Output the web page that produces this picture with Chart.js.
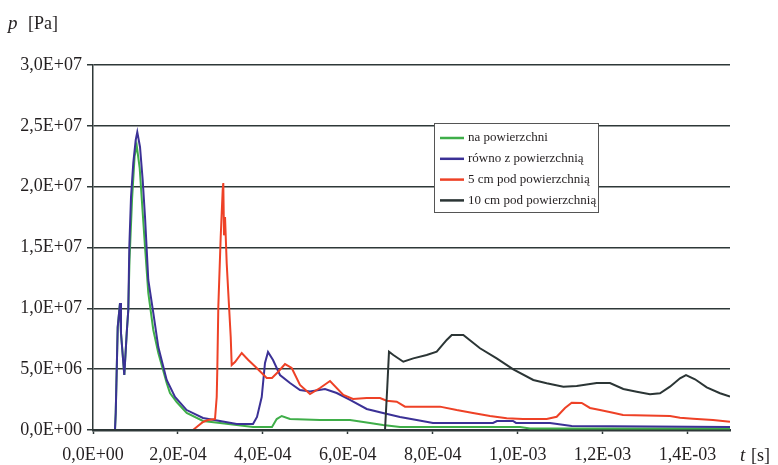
<!DOCTYPE html>
<html>
<head>
<meta charset="utf-8">
<script src="https://cdn.jsdelivr.net/npm/chart.js@4/dist/chart.umd.min.js"></script>
<style>
  body { margin: 0; background: #fff; }
  canvas { display: block; }
</style>
</head>
<body>
<canvas id="wykres" width="778" height="465"></canvas>
<script>
// Dane: czas [s] i ciśnienie [Pa]
const seriesNames = ['na powierzchni', 'równo z powierzchnią', '5 cm pod powierzchnią', '10 cm pod powierzchnią'];
const seriesColors = ['#3fae49', '#3b3196', '#ee4126', '#2b3535'];

const greenT = [0, 5.18e-5, 5.35e-5, 5.82e-5, 6.36e-5, 6.59e-5, 7.37e-5, 7.94e-5, 8.31e-5, 8.6e-5, 9.2e-5, 9.8e-5, 1.029e-4, 1.10e-4, 1.225e-4, 1.302e-4, 1.420e-4, 1.538e-4, 1.735e-4, 1.813e-4, 1.971e-4, 2.206e-4, 2.590e-4, 2.991e-4, 3.384e-4, 3.768e-4, 4.215e-4, 4.326e-4, 4.444e-4, 4.639e-4, 5.346e-4, 6.052e-4, 6.523e-4, 6.829e-4, 7.229e-4, 1.0055e-3, 1.029e-3, 1.5e-3];
const greenP = [0, 0, 1.40e6, 8.47e6, 10.44e6, 7.97e6, 4.52e6, 7.97e6, 9.86e6, 14.0e6, 19.0e6, 22.5e6, 23.4e6, 21.5e6, 15.04e6, 11.26e6, 8.22e6, 6.33e6, 3.86e6, 3.04e6, 2.30e6, 1.40e6, 0.74e6, 0.58e6, 0.41e6, 0.25e6, 0.25e6, 0.90e6, 1.15e6, 0.90e6, 0.82e6, 0.82e6, 0.58e6, 0.41e6, 0.25e6, 0.25e6, 0.12e6, 0.12e6];

const blueT = [0, 5.18e-5, 5.35e-5, 5.82e-5, 6.36e-5, 6.59e-5, 7.37e-5, 7.94e-5, 8.31e-5, 8.55e-5, 8.95e-5, 9.49e-5, 1.006e-4, 1.043e-4, 1.107e-4, 1.170e-4, 1.225e-4, 1.302e-4, 1.420e-4, 1.538e-4, 1.735e-4, 1.931e-4, 2.206e-4, 2.590e-4, 2.991e-4, 3.384e-4, 3.768e-4, 3.862e-4, 3.973e-4, 4.050e-4, 4.121e-4, 4.239e-4, 4.403e-4, 4.639e-4, 4.874e-4, 5.110e-4, 5.463e-4, 5.739e-4, 6.052e-4, 6.445e-4, 6.829e-4, 7.229e-4, 7.622e-4, 8.006e-4, 9.419e-4, 9.513e-4, 9.890e-4, 9.961e-4, 1.0761e-3, 1.1272e-3, 1.5e-3];
const blueP = [0, 0, 1.40e6, 8.47e6, 10.44e6, 7.97e6, 4.52e6, 7.97e6, 9.86e6, 15.04e6, 19.15e6, 21.95e6, 23.84e6, 24.49e6, 23.26e6, 20.55e6, 17.51e6, 12.33e6, 9.62e6, 6.82e6, 4.11e6, 2.71e6, 1.64e6, 0.99e6, 0.74e6, 0.49e6, 0.49e6, 1.07e6, 2.71e6, 5.51e6, 6.41e6, 5.75e6, 4.52e6, 3.86e6, 3.29e6, 3.16e6, 3.37e6, 3.04e6, 2.47e6, 1.73e6, 1.40e6, 1.07e6, 0.82e6, 0.58e6, 0.58e6, 0.74e6, 0.74e6, 0.58e6, 0.58e6, 0.33e6, 0.25e6];

const redT = [0, 2.355e-4, 2.442e-4, 2.590e-4, 2.708e-4, 2.873e-4, 2.913e-4, 2.927e-4, 2.951e-4, 3.007e-4, 3.054e-4, 3.068e-4, 3.085e-4, 3.109e-4, 3.148e-4, 3.186e-4, 3.243e-4, 3.266e-4, 3.344e-4, 3.502e-4, 3.657e-4, 3.855e-4, 4.090e-4, 4.215e-4, 4.356e-4, 4.521e-4, 4.679e-4, 4.874e-4, 5.110e-4, 5.346e-4, 5.581e-4, 5.894e-4, 6.123e-4, 6.445e-4, 6.758e-4, 6.916e-4, 7.152e-4, 7.347e-4, 8.171e-4, 8.564e-4, 8.948e-4, 9.349e-4, 9.742e-4, 1.0126e-3, 1.0684e-3, 1.0919e-3, 1.1115e-3, 1.1272e-3, 1.1508e-3, 1.1703e-3, 1.1939e-3, 1.2245e-3, 1.2481e-3, 1.3587e-3, 1.3823e-3, 1.4129e-3, 1.4600e-3, 1.5e-3];
const redP = [0, 0, 0.25e6, 0.66e6, 0.82e6, 0.90e6, 2.71e6, 4.93e6, 10.11e6, 15.86e6, 19.73e6, 20.30e6, 16.0e6, 17.5e6, 13.73e6, 11.26e6, 7.64e6, 5.34e6, 5.59e6, 6.33e6, 5.75e6, 5.10e6, 4.27e6, 4.27e6, 4.77e6, 5.42e6, 5.10e6, 3.70e6, 2.96e6, 3.45e6, 4.03e6, 2.88e6, 2.55e6, 2.63e6, 2.63e6, 2.41e6, 2.33e6, 1.92e6, 1.92e6, 1.64e6, 1.40e6, 1.15e6, 0.96e6, 0.90e6, 0.90e6, 1.09e6, 1.81e6, 2.24e6, 2.22e6, 1.81e6, 1.64e6, 1.42e6, 1.23e6, 1.15e6, 1.01e6, 0.93e6, 0.82e6, 0.68e6];

const blackT = [0, 6.876e-4, 6.930e-4, 6.970e-4, 7.072e-4, 7.307e-4, 7.542e-4, 7.858e-4, 8.094e-4, 8.329e-4, 8.447e-4, 8.720e-4, 9.113e-4, 9.506e-4, 9.897e-4, 1.0368e-3, 1.0684e-3, 1.1075e-3, 1.1390e-3, 1.1861e-3, 1.2174e-3, 1.2488e-3, 1.2803e-3, 1.3116e-3, 1.3352e-3, 1.3587e-3, 1.3823e-3, 1.3964e-3, 1.4176e-3, 1.4452e-3, 1.4765e-3, 1.5e-3];
const blackP = [0, 0, 3.56e6, 6.44e6, 6.16e6, 5.61e6, 5.89e6, 6.16e6, 6.44e6, 7.40e6, 7.81e6, 7.81e6, 6.72e6, 5.89e6, 4.99e6, 4.11e6, 3.84e6, 3.56e6, 3.62e6, 3.86e6, 3.86e6, 3.37e6, 3.15e6, 2.93e6, 3.02e6, 3.56e6, 4.25e6, 4.52e6, 4.17e6, 3.51e6, 3.02e6, 2.74e6];

const axisColor = '#2e3838';
const textColor = '#231f20';
const serif = "'Liberation Serif', 'DejaVu Serif', serif";

function toPoints(ts, ps) {
  return ts.map((t, i) => ({ x: t, y: ps[i] }));
}

// format "2,0E-04"
function fmtExp(v) {
  if (Math.abs(v) < 1e-12) v = 0;
  const parts = v.toExponential(1).split('e');
  const mant = parts[0].replace('.', ',');
  const exp = parseInt(parts[1], 10);
  const sign = exp < 0 ? '-' : '+';
  const digits = String(Math.abs(exp)).padStart(2, '0');
  return mant + 'E' + sign + digits;
}

// legenda i opisy osi
const extrasPlugin = {
  id: 'extras',
  afterDraw(chart) {
    const ctx = chart.ctx;
    ctx.save();
    // opis osi Y
    ctx.fillStyle = textColor;
    ctx.textBaseline = 'alphabetic';
    ctx.textAlign = 'left';
    ctx.font = 'italic 19px ' + serif;
    ctx.fillText('p', 8, 29);
    ctx.font = '18px ' + serif;
    ctx.fillText('[Pa]', 28, 29);
    // opis osi X
    ctx.font = 'italic 19px ' + serif;
    ctx.fillText('t', 740, 461);
    ctx.font = '18px ' + serif;
    ctx.fillText('[s]', 751, 461);

    // legenda
    const bx = 434, by = 123, bw = 164, bh = 89;
    ctx.fillStyle = '#fff';
    ctx.fillRect(bx, by, bw, bh);
    ctx.strokeStyle = '#555';
    ctx.lineWidth = 1;
    ctx.strokeRect(bx + 0.5, by + 0.5, bw, bh);
    ctx.font = '13px ' + serif;
    ctx.textBaseline = 'middle';
    chart.data.datasets.forEach((ds, i) => {
      const y = 138 + i * 20.8;
      ctx.strokeStyle = ds.borderColor;
      ctx.lineWidth = 2.5;
      ctx.beginPath();
      ctx.moveTo(440, y);
      ctx.lineTo(464, y);
      ctx.stroke();
      ctx.fillStyle = textColor;
      ctx.fillText(ds.label, 468, y);
    });
    ctx.restore();
  }
};

const datasets = [
  [greenT, greenP], [blueT, blueP], [redT, redP], [blackT, blackP]
].map((pair, i) => ({
  label: seriesNames[i],
  data: toPoints(pair[0], pair[1]),
  borderColor: seriesColors[i],
  backgroundColor: seriesColors[i],
  borderWidth: 2,
  pointRadius: 0,
  tension: 0,
  fill: false,
  order: 4 - i
}));

new Chart(document.getElementById('wykres'), {
  type: 'scatter',
  data: { datasets: datasets },
  options: {
    responsive: false,
    animation: false,
    showLine: true,
    layout: { padding: { left: 0, right: 48, top: 65, bottom: 0 } },
    plugins: {
      legend: { display: false },
      tooltip: { enabled: false }
    },
    scales: {
      x: {
        type: 'linear',
        min: 0,
        max: 1.5e-3,
        afterFit: (scale) => { scale.height = 35; },
        border: { display: true, color: axisColor, width: 2.5 },
        grid: { drawOnChartArea: false, color: axisColor, tickLength: 4, tickWidth: 1.5 },
        ticks: {
          stepSize: 2e-4,
          includeBounds: false,
          maxRotation: 0,
          autoSkip: false,
          color: textColor,
          padding: 10,
          font: { family: serif, size: 18 },
          callback: (v) => fmtExp(v)
        }
      },
      y: {
        min: 0,
        max: 3e7,
        afterFit: (scale) => { scale.width = 93; },
        border: { display: true, color: axisColor, width: 1.5 },
        grid: { color: axisColor, lineWidth: 1.5, tickLength: 6 },
        ticks: {
          stepSize: 5e6,
          color: textColor,
          padding: 5,
          font: { family: serif, size: 18 },
          callback: (v) => fmtExp(v)
        }
      }
    }
  },
  plugins: [extrasPlugin]
});
</script>
</body>
</html>
